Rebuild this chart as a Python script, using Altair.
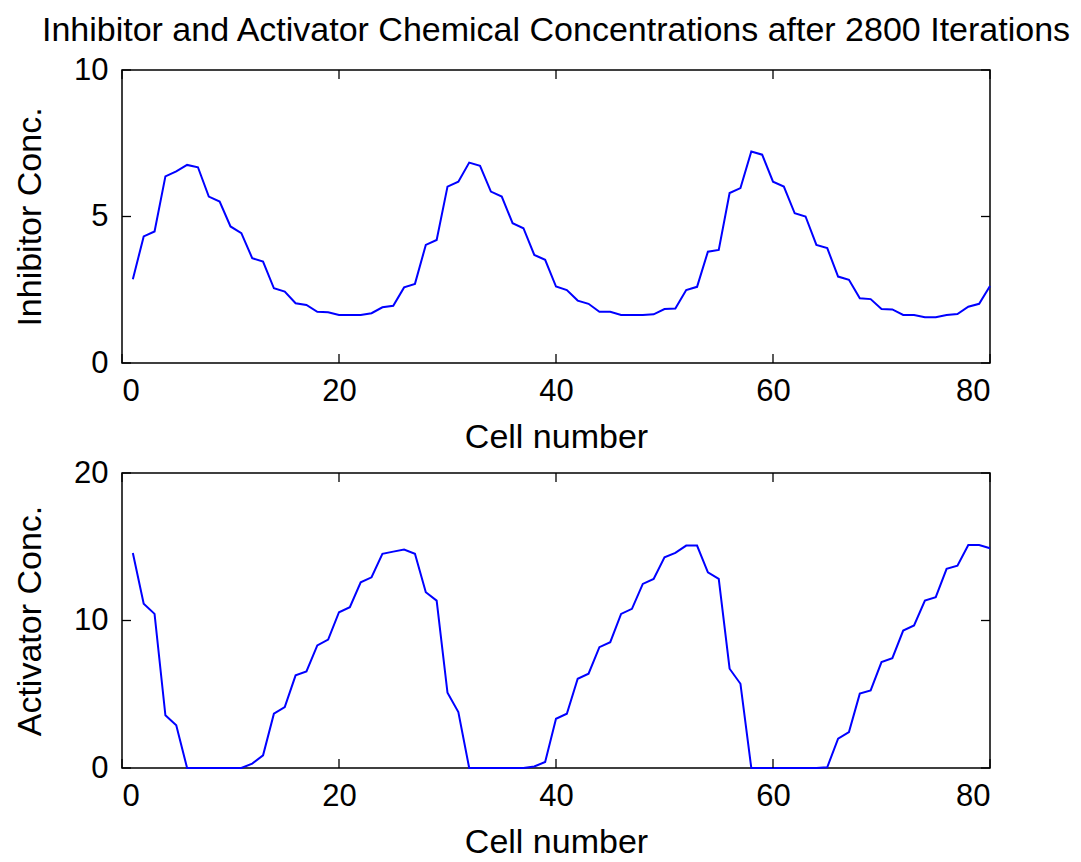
import altair as alt
import pandas as pd

cells = list(range(1, 81))

inhibitor = [
    2.86, 4.32, 4.49, 6.37, 6.54, 6.76, 6.68, 5.68, 5.51, 4.66,
    4.43, 3.58, 3.46, 2.55, 2.44, 2.04, 1.98, 1.75, 1.73, 1.64,
    1.64, 1.64, 1.70, 1.90, 1.95, 2.58, 2.70, 4.03, 4.20, 6.02,
    6.19, 6.84, 6.73, 5.85, 5.68, 4.77, 4.60, 3.69, 3.52, 2.61,
    2.49, 2.13, 2.02, 1.75, 1.75, 1.64, 1.64, 1.64, 1.66, 1.84,
    1.86, 2.49, 2.60, 3.80, 3.86, 5.80, 5.97, 7.22, 7.11, 6.19,
    6.02, 5.11, 5.00, 4.03, 3.92, 2.95, 2.84, 2.21, 2.18, 1.84,
    1.83, 1.64, 1.64, 1.56, 1.56, 1.64, 1.67, 1.92, 2.02, 2.63,
]

activator = [
    14.58, 11.13, 10.45, 3.57, 2.89, 0.0, 0.0, 0.0, 0.0, 0.0,
    0.0, 0.30, 0.86, 3.68, 4.13, 6.28, 6.55, 8.31, 8.71, 10.56,
    10.90, 12.59, 12.93, 14.52, 14.67, 14.81, 14.52, 11.92, 11.35, 5.10,
    3.79, 0.0, 0.0, 0.0, 0.0, 0.0, 0.0, 0.10, 0.41, 3.34,
    3.68, 6.05, 6.39, 8.19, 8.53, 10.45, 10.79, 12.48, 12.82, 14.29,
    14.58, 15.08, 15.08, 13.27, 12.82, 6.73, 5.71, 0.0, 0.0, 0.0,
    0.0, 0.0, 0.0, 0.0, 0.05, 1.99, 2.44, 5.04, 5.26, 7.18,
    7.45, 9.32, 9.66, 11.35, 11.58, 13.50, 13.72, 15.12, 15.12, 14.90,
]

x_ticks = [0, 20, 40, 60, 80]
inh_ticks = [0, 5, 10]
act_ticks = [0, 10, 20]

title_text = "Inhibitor and Activator Chemical Concentrations after 2800 Iterations"
x_title = "Cell number"
inh_title = "Inhibitor Conc."
act_title = "Activator Conc."

FONT = "Liberation Sans"
W = 868
H_TOP = 293
H_BOT = 295
TICK = 9

df = pd.DataFrame({"cell": cells, "inhibitor": inhibitor, "activator": activator})
df_xt = pd.DataFrame({"cell": x_ticks})
df_it = pd.DataFrame({"inhibitor": inh_ticks})
df_at = pd.DataFrame({"activator": act_ticks})

xscale = alt.Scale(domain=[0, 80], nice=False, zero=False)
xaxis = alt.Axis(values=x_ticks, title=x_title, format="d", grid=False, ticks=False,
                 tickSize=0, domain=False, labelPadding=13, titleY=84,
                 titleBaseline="alphabetic")


def panel(field, ticks, dom, ytitle, h, df_yt):
    yscale = alt.Scale(domain=dom, nice=False, zero=False)
    yaxis = alt.Axis(values=ticks, title=ytitle, format="d", grid=False, ticks=False,
                     tickSize=0, domain=False, labelPadding=14, titleX=-82,
                     titleBaseline="alphabetic")
    line = alt.Chart(df).mark_line(color="#0000ff", strokeWidth=2).encode(
        x=alt.X("cell:Q", scale=xscale, axis=xaxis),
        y=alt.Y(f"{field}:Q", scale=yscale, axis=yaxis),
    )
    xt_bottom = alt.Chart(df_xt).mark_rule(color="black", strokeWidth=1.3).encode(
        x=alt.X("cell:Q", scale=xscale, axis=xaxis),
        y=alt.value(h), y2=alt.value(h - TICK),
    )
    xt_top = alt.Chart(df_xt).mark_rule(color="black", strokeWidth=1.3).encode(
        x=alt.X("cell:Q", scale=xscale, axis=xaxis),
        y=alt.value(0), y2=alt.value(TICK),
    )
    yt_left = alt.Chart(df_yt).mark_rule(color="black", strokeWidth=1.3).encode(
        y=alt.Y(f"{field}:Q", scale=yscale, axis=yaxis),
        x=alt.value(0), x2=alt.value(TICK),
    )
    yt_right = alt.Chart(df_yt).mark_rule(color="black", strokeWidth=1.3).encode(
        y=alt.Y(f"{field}:Q", scale=yscale, axis=yaxis),
        x=alt.value(W - TICK), x2=alt.value(W),
    )
    return alt.layer(line, xt_bottom, xt_top, yt_left, yt_right).properties(width=W, height=h)


top = panel("inhibitor", inh_ticks, [0, 10], inh_title, H_TOP, df_it).properties(
    title=alt.TitleParams(text=title_text, fontSize=34, font=FONT, fontWeight="normal",
                          anchor="middle", frame="group", baseline="alphabetic",
                          offset=-21, color="black")
)
bottom = panel("activator", act_ticks, [0, 20], act_title, H_BOT, df_at)

chart = alt.vconcat(top, bottom, spacing=110, bounds="flush").properties(
    padding={"left": 4, "top": 5, "right": 0, "bottom": 0},
    background="white",
).configure_view(
    stroke="black", strokeWidth=1.5
).configure_axis(
    labelFont=FONT, labelFontSize=31, labelColor="black",
    titleFont=FONT, titleFontSize=34, titleFontWeight="normal", titleColor="black",
)

chart.save("out.html", embed_options={"renderer": "svg", "actions": False})
